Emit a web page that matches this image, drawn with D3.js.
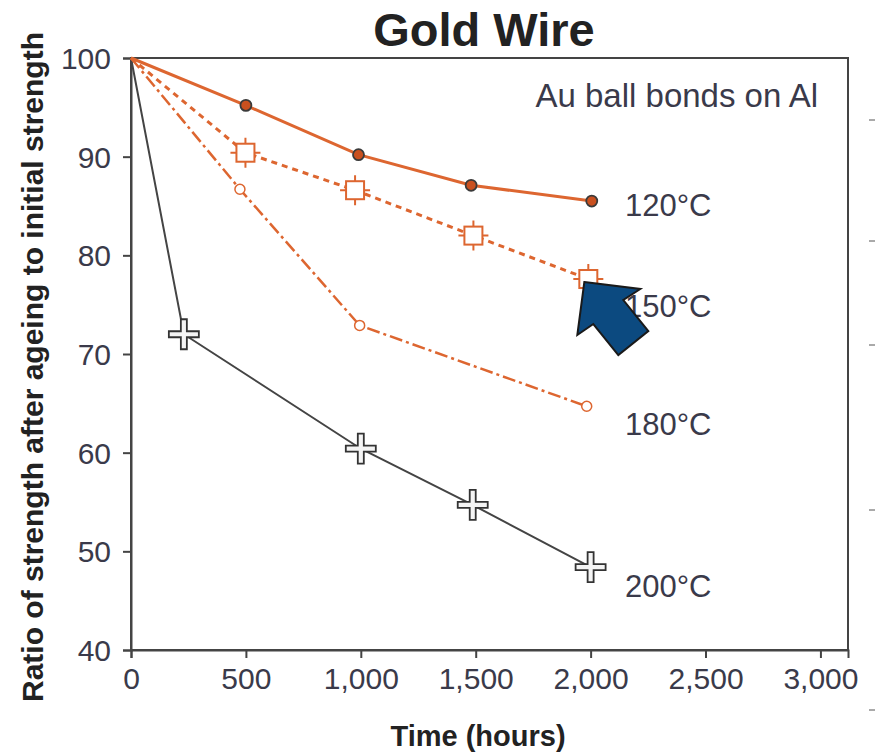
<!DOCTYPE html>
<html><head><meta charset="utf-8">
<script src="https://cdn.jsdelivr.net/npm/d3@7"></script>
<style>body{margin:0;background:#fff}svg{display:block}text{font-family:"Liberation Sans",Arial,sans-serif}</style>
</head><body><svg id="c" width="875" height="753"></svg>
<script>
const xTicks = [0,500,1000,1500,2000,2500,3000];
const yTicks = [40,50,60,70,80,90,100];
const s120 = [[0,100],[500,95.2],[990,90.2],[1480,87.1],[2005,85.5]];
const s150 = [[0,100],[498,90.4],[975,86.6],[1490,82.0],[1990,77.6]];
const s180 = [[0,100],[474,86.7],[995,72.9],[1983,64.7]];
const s200 = [[0,100],[230,72.0],[1000,60.4],[1487,54.7],[2000,48.4]];
const seriesLabels = ["120°C","150°C","180°C","200°C"];
const labelYs = [85.1, 74.9, 62.9, 46.5];

const svg = d3.select("#c");
const L=131, R=848, T=58, B=650;
const x = d3.scaleLinear().domain([0,3120]).range([L,R]);
const y = d3.scaleLinear().domain([40,100]).range([B,T]);
const orange="#dd6630", grey="#444", txt="#3a3a4a";

svg.append("rect").attr("x",L).attr("y",T).attr("width",R-L).attr("height",B-T)
  .attr("fill","none").attr("stroke",grey).attr("stroke-width",2);

const fmt = d3.format(",");
const xa = svg.append("g").attr("transform",`translate(0,${B})`)
  .call(d3.axisBottom(x).tickValues(xTicks).tickFormat(fmt).tickSize(8).tickPadding(10));
const ya = svg.append("g").attr("transform",`translate(${L},0)`)
  .call(d3.axisLeft(y).tickValues(yTicks).tickSize(8).tickPadding(12));
[xa,ya].forEach(a=>{
  a.select(".domain").attr("stroke",grey).attr("stroke-width",2);
  a.selectAll(".tick line").attr("stroke",grey).attr("stroke-width",2);
  a.selectAll(".tick text").attr("fill",txt).attr("font-size",30)
   .attr("font-family","Liberation Sans, Arial, sans-serif");
});
ya.selectAll(".tick text").attr("dy","0.35em");

const line = d3.line().x(d=>x(d[0])).y(d=>y(d[1]));

svg.append("path").datum(s200).attr("d",line).attr("fill","none").attr("stroke",grey).attr("stroke-width",2);
svg.append("path").datum(s180).attr("d",line).attr("fill","none").attr("stroke",orange)
  .attr("stroke-width",2.5).attr("stroke-dasharray","13,4,3,4");
svg.append("path").datum(s150).attr("d",line).attr("fill","none").attr("stroke",orange)
  .attr("stroke-width",3).attr("stroke-dasharray","6,5");
svg.append("path").datum(s120).attr("d",line).attr("fill","none").attr("stroke",orange).attr("stroke-width",3);

svg.selectAll(".m120").data(s120.slice(1)).join("circle")
  .attr("cx",d=>x(d[0])).attr("cy",d=>y(d[1])).attr("r",5.5)
  .attr("fill","#c9501f").attr("stroke","#3a3a3a").attr("stroke-width",1.8);
const g150 = svg.selectAll(".m150").data(s150.slice(1)).join("g")
  .attr("transform",d=>`translate(${x(d[0])},${y(d[1])})`);
g150.append("path").attr("d","M0,-15V15M-15,0H15").attr("stroke",orange).attr("stroke-width",2);
g150.append("rect").attr("x",-9).attr("y",-9).attr("width",18).attr("height",18)
  .attr("fill","#fff").attr("stroke",orange).attr("stroke-width",2);
svg.selectAll(".m180").data(s180.slice(1)).join("circle")
  .attr("cx",d=>x(d[0])).attr("cy",d=>y(d[1])).attr("r",5)
  .attr("fill","#fff").attr("stroke",orange).attr("stroke-width",1.5);
const g200 = svg.selectAll(".m200").data(s200.slice(1)).join("g")
  .attr("transform",d=>`translate(${x(d[0])},${y(d[1])})`);
g200.append("path").attr("d","M-3,-15H3V-3H15V3H3V15H-3V3H-15V-3H-3Z")
  .attr("fill","#f4f4f4").attr("stroke","#333").attr("stroke-width",1.8);

svg.selectAll(".sl").data(seriesLabels).join("text")
  .attr("x",625).attr("y",(d,i)=>y(labelYs[i])).attr("dy","0.35em")
  .attr("font-size",31).attr("fill",txt).text(d=>d);

svg.append("text").attr("x",818).attr("y",95).attr("dy","0.35em").attr("text-anchor","end")
  .attr("font-size",33).attr("fill",txt).text("Au ball bonds on Al");

svg.append("text").attr("x",484).attr("y",46).attr("text-anchor","middle")
  .attr("font-size",47).attr("font-weight","bold").attr("fill","#222").text("Gold Wire");
svg.append("text").attr("x",478).attr("y",746).attr("text-anchor","middle")
  .attr("font-size",29).attr("font-weight","bold").attr("fill","#222").text("Time (hours)");
svg.append("text").attr("transform","translate(43,367) rotate(-90)").attr("text-anchor","middle")
  .attr("font-size",30).attr("font-weight","bold").attr("fill","#222")
  .text("Ratio of strength after ageing to initial strength");

const ax = x(1990), ay = y(77.6);
const pts = [[-4,3],[52,10],[35,21],[60,52],[30,76],[5,45],[-11,56]];
svg.append("path").attr("d","M"+pts.map(p=>[ax+p[0],ay+p[1]].join(",")).join("L")+"Z")
  .attr("fill","#0c4a80").attr("stroke","#1a1a1a").attr("stroke-width",2);

svg.selectAll(".edge").data([120,241,345,510,710]).join("line")
  .attr("x1",869).attr("x2",875).attr("y1",d=>d).attr("y2",d=>d)
  .attr("stroke","#555").attr("stroke-width",1);
</script></body></html>
